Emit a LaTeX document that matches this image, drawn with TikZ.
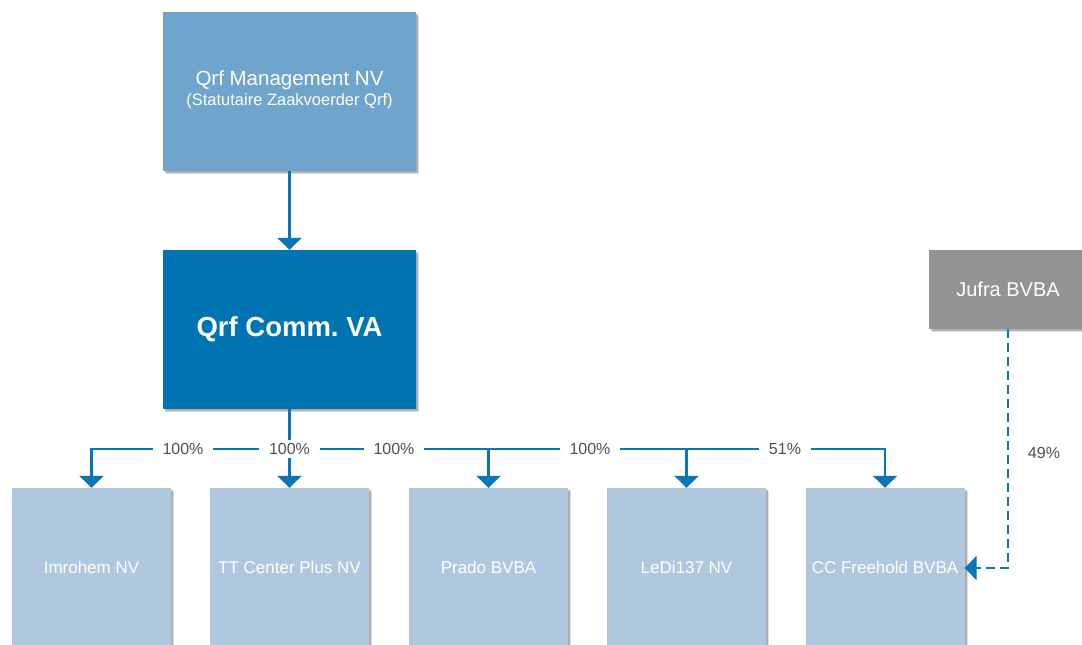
\documentclass[tikz,border=0pt]{standalone}
\usepackage{fontspec}
\setmainfont{Liberation Sans}
\usetikzlibrary{arrows.meta,shadows}
\definecolor{topblue}{HTML}{6FA5CC}
\definecolor{mainblue}{HTML}{0074B2}
\definecolor{subblue}{HTML}{AFC8E0}
\definecolor{jufragray}{HTML}{939393}
\definecolor{arrowblue}{HTML}{0A76B4}
\definecolor{labelgray}{HTML}{505050}
\frenchspacing
\begin{document}
\begin{tikzpicture}[x=1pt,y=-1pt,
  box/.style={draw=none,inner sep=0pt,align=center,text=white,
    drop shadow={shadow xshift=3pt,shadow yshift=-3pt,fill=black,opacity=0.12},
    drop shadow={shadow xshift=2pt,shadow yshift=-2pt,fill=black,opacity=0.22}},
  subbox/.style={box,fill=subblue,minimum width=159pt,minimum height=158pt,
    font=\fontsize{17}{20}\selectfont},
  conn/.style={draw=arrowblue,line width=2.7pt,-{Triangle[width=24pt,length=12pt]}},
  dconn/.style={conn,dash pattern=on 9pt off 5pt},
  pct/.style={fill=white,text=labelgray,inner xsep=10pt,inner ysep=3pt,
    font=\fontsize{16}{18}\selectfont}]
\useasboundingbox (0,0) rectangle (1082,645);
\fill[white] (0,0) rectangle (1082,645);

\node[box,fill=topblue,minimum width=253pt,minimum height=159pt] (mgmt) at (289.5,91.5)
  {\fontsize{20.5}{22}\selectfont Qrf Management NV\\[3pt]
   {\fontsize{16.5}{19}\selectfont (Statutaire Zaakvoerder Qrf)}\\[-5pt]};
\node[box,fill=mainblue,minimum width=253pt,minimum height=159pt,
  font=\fontsize{27.5}{30}\selectfont\bfseries] (main) at (289.5,329.5) {Qrf Comm. VA};
\node[box,fill=jufragray,minimum width=158pt,minimum height=79pt,
  font=\fontsize{20}{22}\selectfont] (jufra) at (1008,289.5) {Jufra BVBA};

\node[subbox] (imr) at (91.5,567) {Imrohem NV};
\node[subbox] (ttc) at (289.5,567) {TT Center Plus NV};
\node[subbox] (prado) at (488.5,567) {Prado BVBA};
\node[subbox] (ledi) at (686.5,567) {LeDi137 NV};
\node[subbox] (ccf) at (885,567) {CC Freehold BVBA};

\coordinate (j) at (289.5,449);
\coordinate (d) at (1008,568);

\draw[conn] (mgmt.south) -- (main.north);
\draw[conn] (main) -- (ttc);
\draw[conn] (j) -| (imr.north);
\draw[conn] (j) -| (ccf.north);
\draw[conn] (prado.north |- j) -- (prado.north);
\draw[conn] (ledi.north |- j) -- (ledi.north);
\draw[dconn] (jufra.south) -- (d) -- (ccf.east |- d);

\node[pct] (l1) at (183,449) {100\%};
\node[pct] (l2) at (289.5,449) {100\%};
\node[pct] (l3) at (394,449) {100\%};
\node[pct] (l4) at (590,449) {100\%};
\node[pct] (l5) at (785,449) {51\%};
\node[pct,fill=none] (l6) at (1044,453) {49\%};
\end{tikzpicture}
\end{document}
